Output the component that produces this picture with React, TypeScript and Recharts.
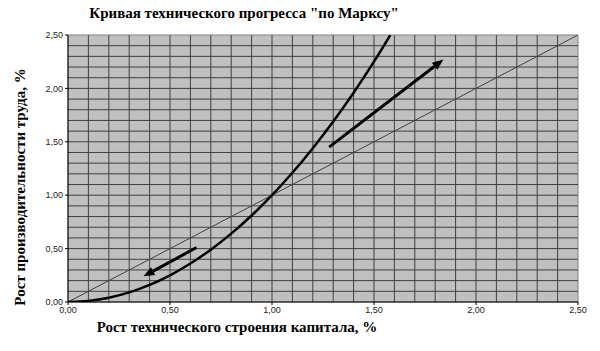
import { LineChart, Line, XAxis, YAxis, ReferenceLine, ReferenceArea } from "recharts"

// кривая "по Марксу"
const capitalGrowth = [0, 0.1, 0.2, 0.3, 0.4, 0.5, 0.6, 0.7, 0.8, 0.9, 1.0, 1.1, 1.2, 1.3, 1.4, 1.5, 1.58]
const laborGrowth = [0, 0.01, 0.04, 0.09, 0.16, 0.25, 0.36, 0.49, 0.64, 0.81, 1.0, 1.21, 1.44, 1.69, 1.96, 2.25, 2.5]

// диагональ y = x
const diagonalX = [0, 2.5]
const diagonalY = [0, 2.5]

const axisTicks = [0, 0.5, 1, 1.5, 2, 2.5]
const gridValues = [
  0.1, 0.2, 0.3, 0.4, 0.5, 0.6, 0.7, 0.8, 0.9, 1.0, 1.1, 1.2,
  1.3, 1.4, 1.5, 1.6, 1.7, 1.8, 1.9, 2.0, 2.1, 2.2, 2.3, 2.4,
]

const arrowUpFrom = [1.28, 1.45]
const arrowUpTo = [1.84, 2.27]
const arrowDownFrom = [0.63, 0.51]
const arrowDownTo = [0.37, 0.24]

const curveData = capitalGrowth.map((x, i) => ({ x, y: laborGrowth[i] }))
const diagonalData = diagonalX.map((x, i) => ({ x, y: diagonalY[i] }))

const fmt = (v: number) => v.toFixed(2).replace(".", ",")

function Arrow(props: any) {
  const { x1, y1, x2, y2 } = props
  const ang = Math.atan2(y2 - y1, x2 - x1)
  const len = 11
  const half = 4.5
  const bx = x2 - len * Math.cos(ang)
  const by = y2 - len * Math.sin(ang)
  const px = -Math.sin(ang) * half
  const py = Math.cos(ang) * half
  return (
    <g>
      <line x1={x1} y1={y1} x2={bx} y2={by} stroke="#000" strokeWidth={3} />
      <polygon
        points={`${x2},${y2} ${bx + px},${by + py} ${bx - px},${by - py}`}
        fill="#000"
      />
    </g>
  )
}

const serif = "Liberation Serif"
const sans = "Liberation Sans"

const titleStyle = {
  position: "absolute" as const,
  fontFamily: serif,
  fontWeight: 700,
  fontSize: 15,
  color: "#000",
  whiteSpace: "nowrap" as const,
  textAlign: "center" as const,
}

export default function App() {
  return (
    <div style={{ position: "absolute", left: 0, top: 0, width: 600, height: 351, background: "#fff" }}>
      <div style={{ ...titleStyle, left: 0, width: 488, top: 5 }}>
        Кривая технического прогресса "по Марксу"
      </div>
      <div style={{ ...titleStyle, left: 0, width: 474, top: 319 }}>
        Рост технического строения капитала, %
      </div>
      <div
        style={{
          ...titleStyle, left: 20, top: 187, width: 300, marginLeft: -150, marginTop: -10,
          height: 20, lineHeight: "20px", transform: "rotate(-90deg)",
        }}
      >
        Рост производительности труда, %
      </div>
      <LineChart
        width={600}
        height={351}
        margin={{ top: 35, right: 22, left: 0, bottom: 0 }}
        style={{ position: "absolute", left: 0, top: 0 }}
      >
        <XAxis
          type="number"
          dataKey="x"
          domain={[0, 2.5]}
          ticks={axisTicks}
          tickFormatter={fmt}
          allowDataOverflow
          height={49}
          tick={{ fontSize: 9, fill: "#222", fontFamily: sans }}
          tickSize={3}
          stroke="#000"
        />
        <YAxis
          type="number"
          dataKey="y"
          domain={[0, 2.5]}
          ticks={axisTicks}
          tickFormatter={fmt}
          allowDataOverflow
          width={68}
          tick={{ fontSize: 9, fill: "#222", fontFamily: sans }}
          tickSize={3}
          stroke="#000"
        />
        <ReferenceArea x1={0} x2={2.5} y1={0} y2={2.5} fill="#c0c0c0" fillOpacity={1} stroke="#808080" />
        {gridValues.map((v) => (
          <ReferenceLine key={`v${v}`} x={v} stroke="#404040" strokeWidth={1} />
        ))}
        {gridValues.map((v) => (
          <ReferenceLine key={`h${v}`} y={v} stroke="#404040" strokeWidth={1} />
        ))}
        <Line
          data={diagonalData}
          dataKey="y"
          type="linear"
          stroke="#404040"
          strokeWidth={1}
          dot={false}
          isAnimationActive={false}
        />
        <Line
          data={curveData}
          dataKey="y"
          type="monotone"
          stroke="#000"
          strokeWidth={2.5}
          dot={false}
          isAnimationActive={false}
        />
        <ReferenceLine
          segment={[{ x: arrowUpFrom[0], y: arrowUpFrom[1] }, { x: arrowUpTo[0], y: arrowUpTo[1] }]}
          shape={Arrow}
        />
        <ReferenceLine
          segment={[{ x: arrowDownFrom[0], y: arrowDownFrom[1] }, { x: arrowDownTo[0], y: arrowDownTo[1] }]}
          shape={Arrow}
        />
      </LineChart>
    </div>
  )
}
